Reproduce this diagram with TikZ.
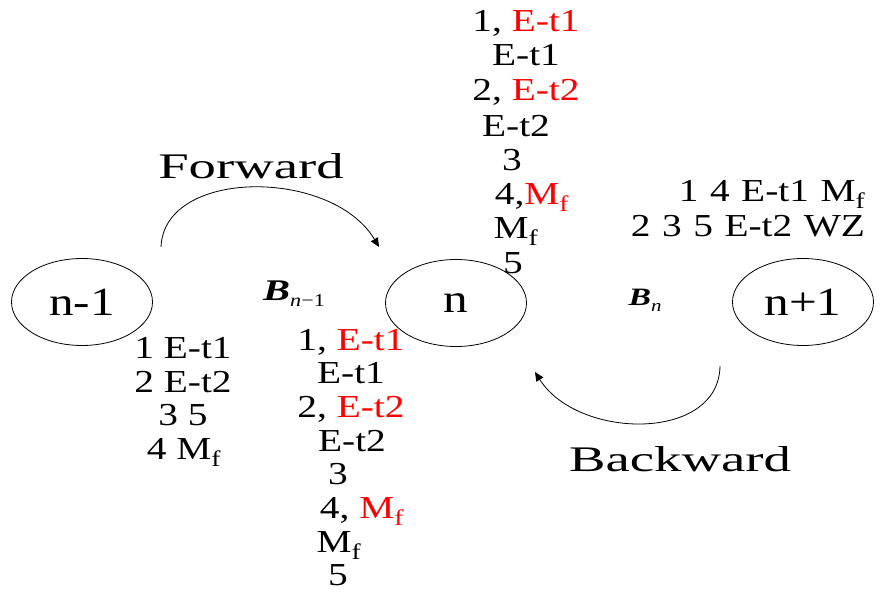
\documentclass[tikz,border=0pt]{standalone}
\usepackage{fontspec}
\setmainfont{Liberation Serif}[FakeStretch=1.23]
\newfontfamily\widefont{Liberation Serif}[FakeStretch=1.52]
\newfontfamily\bsymfont{Liberation Serif}[FakeStretch=1.35]
\usetikzlibrary{arrows.meta,shapes.geometric}
\newcommand{\Mf}{M\textsubscript{f}}
\newcommand{\rd}[1]{\textcolor{red}{#1}}
\newcommand{\wsp}{\spaceskip=0.36em\relax}
\newcommand{\Bsym}[3]{{\bsymfont\fontsize{#1}{#1}\selectfont\bfseries\itshape B}\raisebox{-6pt}{\fontsize{#2}{#2}\selectfont #3}}
\begin{document}
\begin{tikzpicture}[x=1pt,y=-1pt,
  state/.style={draw,ellipse,line width=0.8pt,minimum width=141pt,minimum height=87pt,inner sep=0pt,font=\fontsize{40}{40}\selectfont},
  lbl/.style={inner sep=0pt,anchor=base,font=\fontsize{32}{32}\selectfont},
  big/.style={inner sep=0pt,anchor=base,font=\fontsize{36}{36}\selectfont\widefont},
  bsym/.style={inner sep=0pt,anchor=base},
  flow/.style={line width=0.8pt,-{Triangle[length=9pt,width=8pt]}}]
\useasboundingbox (0,0) rectangle (887,594);

% states
\node[state] (s1) at (82,302) {n-1};
\node[state] (s2) at (456,303) {n};
\node[state] (s3) at (803,302) {n+1};

% edge labels
\node[bsym] (B1) at (294,300) {\Bsym{30}{18}{\textit{n}−1}};
\node[bsym] (B2) at (645,305) {\Bsym{25}{17}{\textit{n}}};

% forward / backward
\node[big] (fw) at (251,178) {Forward};
\node[big] (bw) at (680,471) {Backward};
\coordinate (f0) at (161,247);
\coordinate (f1) at (379,247);
\coordinate (g0) at (720,366);
\coordinate (g1) at (535,372);
\draw[flow] (f0) .. controls (164,168) and (332,168) .. (f1);
\draw[flow] (g0) .. controls (719,442) and (578,440) .. (g1);

% top column
\node[lbl] (t1) at (526,32) {1, \rd{E-t1}};
\node[lbl] (t2) at (526,66) {E-t1};
\node[lbl] (t3) at (526,101) {2, \rd{E-t2}};
\node[lbl] (t4) at (516,136) {E-t2};
\node[lbl] (t5) at (512,170) {3};
\node[lbl] (t6) at (532,204) {4,\rd{\Mf}};
\node[lbl] (t7) at (516,238) {\Mf};
\node[lbl] (t8) at (513,273) {5};

% right text
\node[lbl] (r1) at (772,201) {\wsp 1 4 E-t1 \Mf};
\node[lbl] (r2) at (748,236) {\wsp 2 3 5 E-t2 WZ};

% left column
\node[lbl] (l1) at (183,358) {1 E-t1};
\node[lbl] (l2) at (183,392) {2 E-t2};
\node[lbl] (l3) at (183,425) {3 5};
\node[lbl] (l4) at (184,459) {4 \Mf};

% bottom column
\node[lbl] (b1) at (351,350) {1, \rd{E-t1}};
\node[lbl] (b2) at (351,383) {E-t1};
\node[lbl] (b3) at (351,417) {2, \rd{E-t2}};
\node[lbl] (b4) at (352,451) {E-t2};
\node[lbl] (b5) at (338,484) {3};
\node[lbl] (b6) at (362,518) {4, \rd{\Mf}};
\node[lbl] (b7) at (339,552) {\Mf};
\node[lbl] (b8) at (338,585) {5};
\end{tikzpicture}
\end{document}
